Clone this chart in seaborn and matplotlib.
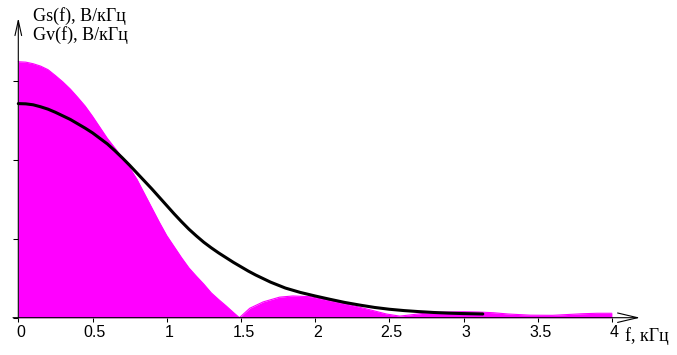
import numpy as np
import pandas as pd
import matplotlib
matplotlib.use("Agg")
import matplotlib.pyplot as plt
from matplotlib.transforms import ScaledTranslation
import seaborn as sns

# ---- data ----
gs_f = [0, 0.05, 0.1, 0.15, 0.2, 0.25, 0.3, 0.35, 0.4, 0.45, 0.5, 0.55, 0.6,
        0.65, 0.7, 0.75, 0.8, 0.85, 0.9, 0.95, 1.0, 1.05, 1.1, 1.15, 1.2,
        1.25, 1.3, 1.35, 1.4, 1.45, 1.49, 1.56, 1.65, 1.76, 1.85, 1.97, 2.1,
        2.24, 2.37, 2.48, 2.57, 2.64, 2.73, 2.85, 3.0, 3.1, 3.2, 3.3, 3.45,
        3.6, 3.7, 3.8, 3.9, 4.0]
gs_v = [3.24, 3.235, 3.215, 3.185, 3.14, 3.065, 2.985, 2.895, 2.79, 2.68, 2.55,
        2.41, 2.27, 2.15, 2.03, 1.90, 1.75, 1.57, 1.39, 1.21, 1.04, 0.90, 0.76,
        0.63, 0.525, 0.425, 0.315, 0.23, 0.15, 0.065, 0.0, 0.12, 0.2, 0.26,
        0.275, 0.266, 0.215, 0.16, 0.1, 0.047, 0.02, 0.035, 0.055, 0.07, 0.076,
        0.072, 0.063, 0.047, 0.032, 0.03, 0.04, 0.05, 0.056, 0.056]

gv_f = [0, 0.05, 0.1, 0.15, 0.2, 0.25, 0.3, 0.35, 0.4, 0.45, 0.5, 0.55, 0.6,
        0.65, 0.7, 0.75, 0.8, 0.85, 0.9, 0.95, 1.0, 1.05, 1.1, 1.15, 1.2,
        1.25, 1.3, 1.35, 1.4, 1.45, 1.5, 1.55, 1.6, 1.7, 1.8, 1.9, 2.0, 2.1,
        2.2, 2.3, 2.4, 2.5, 2.6, 2.7, 2.8, 2.9, 3.0, 3.13]
gv_v = [2.71, 2.707, 2.695, 2.67, 2.64, 2.60, 2.555, 2.51, 2.455, 2.40, 2.34,
        2.27, 2.20, 2.115, 2.025, 1.93, 1.83, 1.73, 1.63, 1.525, 1.42, 1.315,
        1.215, 1.12, 1.035, 0.955, 0.885, 0.82, 0.76, 0.70, 0.645, 0.59, 0.54,
        0.45, 0.375, 0.32, 0.275, 0.233, 0.193, 0.16, 0.13, 0.107, 0.09, 0.077,
        0.066, 0.058, 0.052, 0.047]

x_ticks = [0, 0.5, 1, 1.5, 2, 2.5, 3, 3.5, 4]
x_tick_labels = ["0", "0.5", "1", "1.5", "2", "2.5", "3", "3.5", "4"]
y_ticks = [0, 1, 2, 3]

label_gs = "Gs(f), В/кГц"
label_gv = "Gv(f), В/кГц"
label_f = "f, кГц"

# ---- style ----
sns.set_style("white")
plt.rcParams["font.family"] = ["Liberation Sans", "DejaVu Sans"]

W, H, DPI = 677, 355, 100
fig = plt.figure(figsize=(W / DPI, H / DPI), dpi=DPI)
ax = fig.add_axes([0, 0, 1, 1])
ax.set_facecolor("white")

# pixel geometry of the reference
X0, SX = 18.3, 148.4   # px of f=0, px per kHz
Y0, SY = 317.7, 79.0   # px (from top) of value 0, px per unit
ax.set_xlim(-X0 / SX, (W - X0) / SX)
ax.set_ylim((Y0 - H) / SY, Y0 / SY)

df_s = pd.DataFrame({"f": gs_f, "G": gs_v})
df_v = pd.DataFrame({"f": gv_f, "G": gv_v})

ax.fill_between(df_s["f"], df_s["G"], 0, color="#FF00FF", lw=0, zorder=1)
sns.lineplot(data=df_s, x="f", y="G", color="#FF00FF", lw=0.8, sort=False,
             ax=ax, zorder=2)
sns.lineplot(data=df_v, x="f", y="G", color="black", lw=2.2, sort=False,
             ax=ax, zorder=3)

# spines positioned at the origin (invisible), used for tick placement
for s in ["top", "right"]:
    ax.spines[s].set_visible(False)
ax.spines["left"].set_position(("data", 0))
ax.spines["bottom"].set_position(("data", 0))
ax.spines["left"].set_color("none")
ax.spines["bottom"].set_color("none")

ax.set_xticks(x_ticks)
ax.set_xticklabels([])
ax.set_yticks(y_ticks)
ax.set_yticklabels([])
ax.tick_params(axis="x", direction="out", length=2.9, width=0.75,
               color="black", bottom=True)
ax.tick_params(axis="y", direction="out", length=3.6, width=0.75,
               color="black", left=True)
ax.set_xlabel("")
ax.set_ylabel("")

# axis arrows
ax.annotate("", xy=((640 - X0) / SX, 0), xytext=((13 - X0) / SX, 0),
            arrowprops=dict(arrowstyle="->,head_length=1.44,head_width=0.34",
                            lw=0.8, color="black", shrinkA=0, shrinkB=0),
            zorder=4)
ax.annotate("", xy=(0, (Y0 - 18) / SY), xytext=(0, 0),
            arrowprops=dict(arrowstyle="->,head_length=1.08,head_width=0.24",
                            lw=0.8, color="black", shrinkA=0, shrinkB=0),
            zorder=4)

# tick labels
off = ScaledTranslation(2.5 / DPI, -19.3 / DPI, fig.dpi_scale_trans)
for xv, lab in zip(x_ticks, x_tick_labels):
    ax.text(xv, 0, lab, transform=ax.transData + off, ha="center",
            va="baseline", fontsize=11.5, color="black",
            family=["Liberation Sans", "DejaVu Sans"])

# axis titles
serif = ["Liberation Serif", "DejaVu Serif"]
ax.text(33 / W, 1 - 21 / H, label_gs, transform=ax.transAxes, ha="left",
        va="baseline", fontsize=13, family=serif, color="black")
ax.text(33 / W, 1 - 40 / H, label_gv, transform=ax.transAxes, ha="left",
        va="baseline", fontsize=13, family=serif, color="black")
ax.text(625 / W, 1 - 341 / H, label_f, transform=ax.transAxes, ha="left",
        va="baseline", fontsize=13, family=serif, color="black")

fig.savefig("out.png", dpi=DPI)
